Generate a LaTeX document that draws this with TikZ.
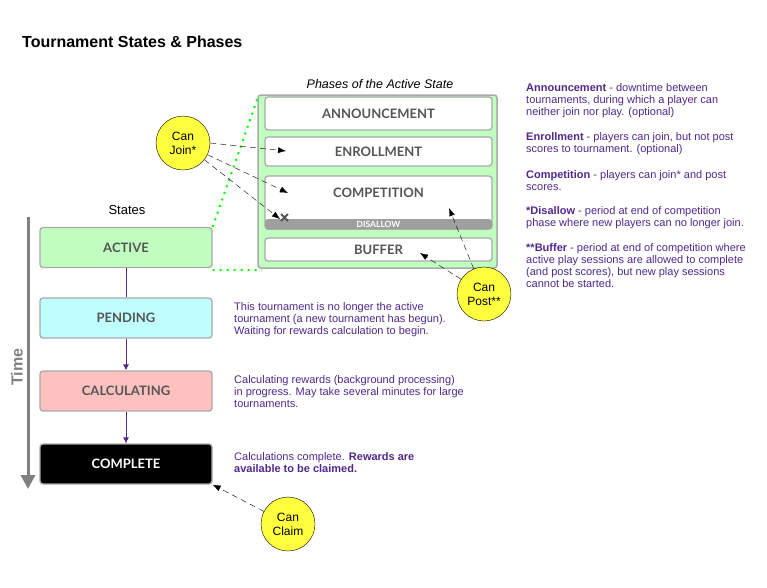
\documentclass[tikz,border=0pt]{standalone}
\usepackage{fontspec}
\setmainfont{Liberation Sans}
\newfontfamily\boxfont{Lato}
\usetikzlibrary{arrows.meta}
\definecolor{activegreen}{RGB}{192,255,192}
\definecolor{pendcyan}{RGB}{192,255,255}
\definecolor{calcpink}{RGB}{255,192,192}
\definecolor{notepurple}{RGB}{80,40,140}
\definecolor{edgegray}{RGB}{170,170,170}
\definecolor{labelgray}{RGB}{85,85,85}
\definecolor{canyellow}{RGB}{255,255,64}
\tikzset{
  statebox/.style={draw=edgegray, line width=1.3pt, rounded corners=3pt, minimum width=172pt, minimum height=40pt, font=\boxfont\bfseries\fontsize{13}{15}\selectfont, text=labelgray},
  phasebox/.style={draw=edgegray, fill=white, line width=1.3pt, rounded corners=3pt, minimum width=227pt, font=\boxfont\bfseries\fontsize{13}{15}\selectfont, text=labelgray},
  cancircle/.style={circle, draw=black, fill=canyellow, minimum size=54pt, inner sep=0pt, align=center, font=\fontsize{12}{14}\selectfont},
  note/.style={anchor=north west, align=left, inner sep=0pt, text=notepurple, font=\fontsize{11}{12}\selectfont},
  pointer/.style={dashed, dash pattern=on 6pt off 4pt, -{Latex[length=8pt,width=6pt]}},
  flow/.style={notepurple, line width=0.8pt},
  zoomline/.style={green, line width=2pt, dash pattern=on 2pt off 5pt}
}
\begin{document}
\begin{tikzpicture}[x=1pt,y=-1pt]
\useasboundingbox (0,0) rectangle (767,587);

\node[anchor=west, inner sep=0pt, font=\bfseries\fontsize{16}{18}\selectfont] (title) at (22,42) {Tournament States \& Phases};

% phases of the active state
\node[font=\itshape\fontsize{12.5}{14}\selectfont] (phasetitle) at (380,84) {Phases of the Active State};
\draw[edgegray, fill=activegreen, line width=1.5pt, rounded corners=3pt] (258,95) rectangle (497,268);
\node[phasebox, minimum height=33pt] (announce) at (378.5,113.5) {ANNOUNCEMENT};
\node[phasebox, minimum height=29pt] (enroll) at (378.5,151.5) {ENROLLMENT};
\node[phasebox, minimum height=53pt] (compete) at (378.5,202.5) {};
\node[font=\boxfont\bfseries\fontsize{13}{15}\selectfont, text=labelgray] (competelabel) at (378.5,193) {COMPETITION};
\fill[gray!75, rounded corners=3pt] (265,219) rectangle (492,229.5);
\node[font=\boxfont\bfseries\fontsize{8.5}{9}\selectfont, text=white] (disallow) at (378.5,224.5) {DISALLOW};
\node[phasebox, minimum height=23pt] (buffer) at (378.5,249.5) {BUFFER};

% states
\node[font=\fontsize{13}{15}\selectfont] (stateslabel) at (127,210) {States};
\node[statebox, fill=activegreen] (active) at (126,247.5) {ACTIVE};
\node[statebox, fill=pendcyan] (pending) at (126,318) {PENDING};
\node[statebox, fill=calcpink] (calculating) at (126,391) {CALCULATING};
\node[statebox, fill=black, text=white] (complete) at (126,464) {COMPLETE};
\draw[flow] (active) -- (pending);
\draw[flow, -{Latex[length=6pt,width=6pt]}] (pending) -- (calculating);
\draw[flow, -{Latex[length=6pt,width=6pt]}] (calculating) -- (complete);

% time axis
\coordinate (timetop) at (28,217);
\coordinate (timeend) at (28,489);
\draw[gray, line width=3pt, -{Triangle[length=14pt,width=14pt]}] (timetop) -- (timeend);
\node[rotate=90, text=gray, font=\bfseries\fontsize{16}{18}\selectfont] (timelabel) at (17,367) {Time};

% zoom lines
\draw[zoomline] (active.north east) -- (258,97);
\draw[zoomline] (active.south east) ++(0,2) -- (262,270);

% can join
\node[cancircle] (canjoin) at (183,143) {Can\\Join*};
\coordinate (joinenroll) at (286,151);
\coordinate (joincompete) at (288,193);
\coordinate (joindisallow) at (280,219);
\draw[pointer] (canjoin.east) -- (joinenroll);
\draw[pointer] (canjoin) -- (joincompete);
\draw[pointer] (canjoin) -- (joindisallow);
\draw[labelgray, line width=2pt] (281,214) -- (288,221) (281,221) -- (288,214);

% can post
\node[cancircle] (canpost) at (484,294) {Can\\Post**};
\coordinate (postcompete) at (449,208);
\coordinate (postbuffer) at (420,253);
\draw[pointer] (canpost) -- (postcompete);
\draw[pointer] (canpost) -- (postbuffer);

% can claim
\node[cancircle] (canclaim) at (288,524) {Can\\Claim};
\draw[pointer] (canclaim) -- (complete.south east);

% state notes
\node[note] (pendingnote) at (234,302) {This tournament is no longer the active\\tournament (a new tournament has begun).\\Waiting for rewards calculation to begin.};
\node[note] (calcnote) at (234,375) {Calculating rewards (background processing)\\in progress. May take several minutes for large\\tournaments.};
\node[note] (completenote) at (234,452) {Calculations complete. \textbf{Rewards are}\\\textbf{available to be claimed.}};

% phase notes
\node[note] (announcenote) at (526,83) {\textbf{Announcement} - downtime between\\tournaments, during which a player can\\neither join nor play. (optional)};
\node[note] (enrollnote) at (526,132) {\textbf{Enrollment} - players can join, but not post\\scores to tournament. (optional)};
\node[note] (competenote) at (526,170) {\textbf{Competition} - players can join* and post\\scores.};
\node[note] (disallownote) at (526,206) {\textbf{*Disallow} - period at end of competition\\phase where new players can no longer join.};
\node[note] (buffernote) at (526,243) {\textbf{**Buffer} - period at end of competition where\\active play sessions are allowed to complete\\(and post scores), but new play sessions\\cannot be started.};
\end{tikzpicture}
\end{document}
